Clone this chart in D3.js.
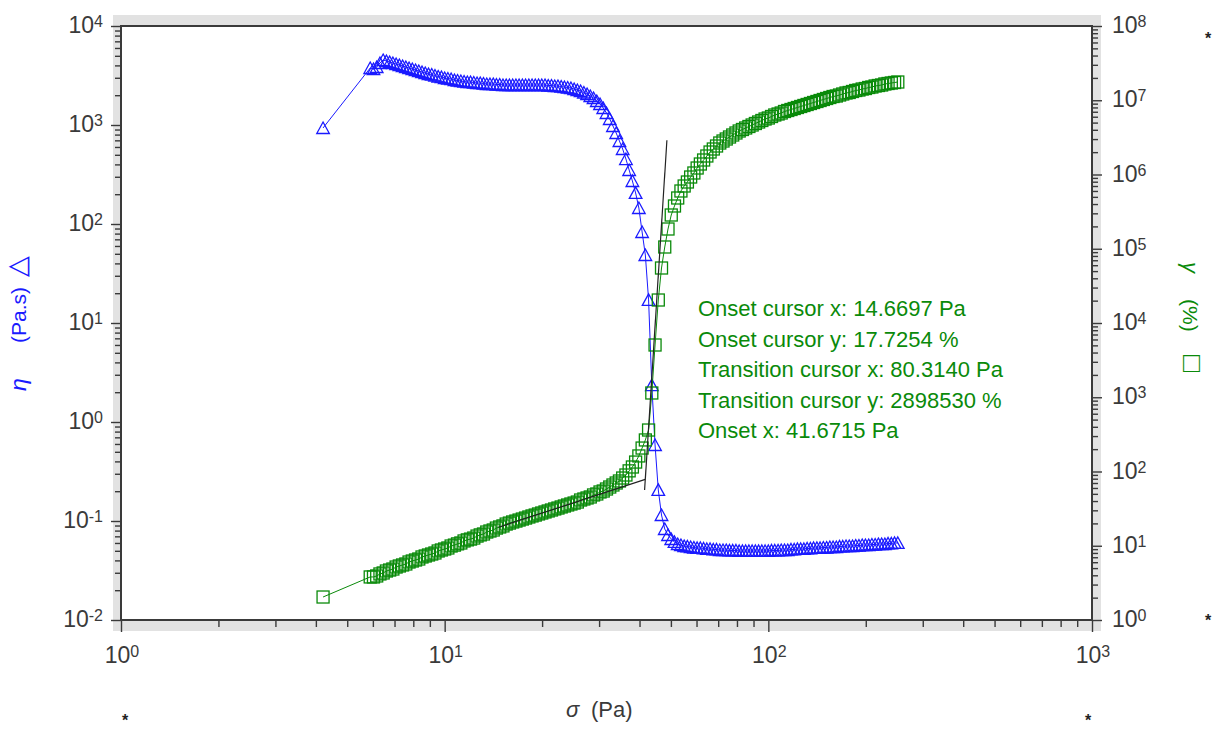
<!DOCTYPE html>
<html><head><meta charset="utf-8">
<script src="https://cdn.jsdelivr.net/npm/d3@7"></script>
<style>
html,body{margin:0;padding:0;background:#fff;}
svg{display:block;font-family:"Liberation Sans",Arial,Helvetica,sans-serif;}
</style></head><body>
<svg id="c" width="1215" height="731"></svg>
<script>
// ---- data ----
const stress = [4.21,
5.888, 6.026, 6.166, 6.310, 6.457, 6.607, 6.761, 6.918, 7.079, 7.244,
7.413, 7.586, 7.762, 7.943, 8.128, 8.318, 8.511, 8.710, 8.913, 9.120,
9.333, 9.550, 9.772, 10.00, 10.23, 10.47, 10.72, 10.96, 11.22, 11.48,
11.75, 12.02, 12.30, 12.59, 12.88, 13.18, 13.49, 13.80, 14.13, 14.45,
14.79, 15.14, 15.49, 15.85, 16.22, 16.60, 16.98, 17.38, 17.78, 18.20,
18.62, 19.05, 19.50, 19.95, 20.42, 20.89, 21.38, 21.88, 22.39, 22.91,
23.44, 23.99, 24.55, 25.12, 25.70, 26.30, 26.92, 27.54, 28.18, 28.84,
29.51, 30.20, 30.90, 31.62, 32.36, 33.11, 33.88, 34.67, 35.48, 36.31,
37.15, 38.02, 38.90, 39.81, 40.74, 41.69, 42.66, 43.65, 44.67, 45.71,
46.77, 47.86, 48.98, 50.12, 51.29, 52.48, 53.70, 54.95, 56.23, 57.54,
58.88, 60.26, 61.66, 63.10, 64.57, 66.07, 67.61, 69.18, 70.79, 72.44,
74.13, 75.86, 77.62, 79.43, 81.28, 83.18, 85.11, 87.10, 89.13, 91.20,
93.33, 95.50, 97.72, 100.0, 102.3, 104.7, 107.2, 109.6, 112.2, 114.8,
117.5, 120.2, 123.0, 125.9, 128.8, 131.8, 134.9, 138.0, 141.3, 144.5,
147.9, 151.4, 154.9, 158.5, 162.2, 166.0, 169.8, 173.8, 177.8, 182.0,
186.2, 190.5, 195.0, 199.5, 204.2, 208.9, 213.8, 218.8, 223.9, 229.1,
234.4, 239.9, 245.5, 251.2];

const viscosity = [933,
3765, 3679, 3854, 4230, 4535, 4432, 4330, 4230, 4133, 4037,
3945, 3854, 3765, 3679, 3594, 3512, 3431, 3352, 3275, 3237,
3162, 3090, 3054, 2984, 2949, 2915, 2848, 2815, 2782, 2750,
2718, 2718, 2687, 2656, 2656, 2625, 2595, 2595, 2595, 2565,
2565, 2535, 2535, 2535, 2535, 2535, 2535, 2535, 2535, 2535,
2535, 2535, 2535, 2535, 2535, 2506, 2506, 2477, 2477, 2448,
2420, 2392, 2364, 2310, 2257, 2205, 2130, 2057, 1963, 1874,
1748, 1630, 1485, 1322, 1150, 977, 830, 689, 572, 453,
351, 272, 206, 145, 83.0, 48.6, 17.1, 2.36, 0.586, 0.206,
0.115, 0.0830, 0.0722, 0.0658, 0.0614, 0.0586, 0.0572, 0.0559, 0.0553, 0.0546,
0.0540, 0.0534, 0.0534, 0.0528, 0.0522, 0.0522, 0.0516, 0.0516, 0.0509, 0.0509,
0.0509, 0.0504, 0.0504, 0.0504, 0.0498, 0.0498, 0.0498, 0.0498, 0.0498, 0.0498,
0.0498, 0.0498, 0.0498, 0.0498, 0.0504, 0.0504, 0.0504, 0.0509, 0.0509, 0.0509,
0.0516, 0.0516, 0.0522, 0.0522, 0.0522, 0.0528, 0.0528, 0.0534, 0.0534, 0.0534,
0.0540, 0.0540, 0.0546, 0.0546, 0.0546, 0.0553, 0.0553, 0.0559, 0.0559, 0.0559,
0.0565, 0.0565, 0.0572, 0.0572, 0.0572, 0.0579, 0.0579, 0.0586, 0.0586, 0.0586,
0.0593, 0.0593, 0.0600, 0.0600];

const strain = [2.04,
3.80, 3.80, 3.92, 4.17, 4.30, 4.57, 4.71, 4.86, 5.17, 5.34,
5.51, 5.68, 6.04, 6.23, 6.43, 6.63, 7.06, 7.28, 7.51, 7.74,
7.99, 8.50, 8.77, 9.04, 9.33, 9.92, 10.2, 10.6, 10.9, 11.6,
12.0, 12.3, 12.7, 13.5, 14.0, 14.4, 15.3, 15.8, 16.3, 17.3,
17.9, 18.5, 19.6, 20.2, 20.9, 21.5, 22.2, 22.9, 23.6, 24.4,
25.2, 25.9, 26.8, 27.6, 28.5, 29.4, 30.3, 31.3, 32.2, 33.3,
34.3, 35.4, 36.5, 37.6, 38.8, 41.3, 42.6, 44.0, 45.4, 48.3,
49.8, 53.0, 54.6, 58.1, 61.8, 65.8, 70.0, 74.5, 81.7, 89.7,
102, 115, 134, 162, 207, 266, 362, 1141, 5055, 20400,
55050, 105600, 184500, 284800, 376600, 482600, 599600, 700000, 792500, 925300,
1048000, 1223000, 1385000, 1568000, 1775000, 2009000, 2205000, 2420000, 2656000, 2826000,
3007000, 3199000, 3404000, 3623000, 3854000, 4038000, 4230000, 4432000, 4642000, 4863000,
5095000, 5337000, 5591000, 5768000, 6042000, 6329000, 6529000, 6735000, 7055000, 7278000,
7507000, 7743000, 7988000, 8240000, 8500000, 8768000, 9042000, 9327000, 9621000, 9922000,
10240000, 10560000, 10890000, 11230000, 11410000, 11770000, 12140000, 12520000, 12720000, 13120000,
13530000, 13740000, 14170000, 14390000, 14850000, 15080000, 15560000, 15800000, 16050000, 16560000,
16810000, 17080000, 17340000, 17610000];

// onset analysis tangent lines
const onsetTangentStress = [14.6697, 41.6715];
const onsetTangentStrain = [17.7254, 78.4];
const transitionTangentStress = [41.47, 48.6];
const transitionTangentStrain = [56.3, 2898530];

// tick labels (exponents of 10)
const xExponents = [0, 1, 2, 3];
const leftExponents = [-2, -1, 0, 1, 2, 3, 4];
const rightExponents = [0, 1, 2, 3, 4, 5, 6, 7, 8];

const annotationLines = [
  "Onset cursor x: 14.6697 Pa",
  "Onset cursor y: 17.7254 %",
  "Transition cursor x: 80.3140 Pa",
  "Transition cursor y: 2898530 %",
  "Onset x: 41.6715 Pa"
];

// ---- drawing ----
const BLUE = "#1a1aff", GREEN = "#0a8a0a", AXIS = "#3a3a3a", LABEL = "#3a3a3a";
const X0 = 121, X1 = 1092, Y0 = 26, Y1 = 620;
const svg = d3.select("#c");
const x = d3.scaleLog().domain([1, 1000]).range([X0, X1]);
const yL = d3.scaleLog().domain([1e-2, 1e4]).range([Y1, Y0]);
const yR = d3.scaleLog().domain([1, 1e8]).range([Y1, Y0]);

// frame shading
svg.append("rect").attr("x", 113).attr("y", 15).attr("width", 988).attr("height", 616).attr("fill", "#e2e2e2");
svg.append("rect").attr("x", X0).attr("y", Y0).attr("width", X1 - X0).attr("height", Y1 - Y0).attr("fill", "#fff");

function minorTicks(lo, hi) {
  const out = [];
  for (let e = lo; e < hi; e++) for (let m = 2; m <= 9; m++) out.push(m * Math.pow(10, e));
  return out;
}
const axisG = svg.append("g");
function drawAxis(axis, transform) {
  const g = axisG.append("g").attr("transform", transform).call(axis);
  g.select(".domain").remove();
  g.selectAll("line").attr("stroke", AXIS).attr("stroke-width", 1.4);
  return g;
}
const p = e => Math.pow(10, e);
drawAxis(d3.axisBottom(x).tickValues(xExponents.map(p)).tickSize(12).tickFormat(""), `translate(0,${Y1})`);
drawAxis(d3.axisBottom(x).tickValues(minorTicks(0, 3)).tickSize(7).tickFormat(""), `translate(0,${Y1})`);
drawAxis(d3.axisLeft(yL).tickValues(leftExponents.map(p)).tickSize(10).tickFormat(""), `translate(${X0},0)`);
drawAxis(d3.axisLeft(yL).tickValues(minorTicks(-2, 4)).tickSize(6).tickFormat(""), `translate(${X0},0)`);
drawAxis(d3.axisRight(yR).tickValues(rightExponents.map(p)).tickSize(10).tickFormat(""), `translate(${X1},0)`);
drawAxis(d3.axisRight(yR).tickValues(minorTicks(0, 8)).tickSize(6).tickFormat(""), `translate(${X1},0)`);

// frame lines
svg.append("rect").attr("x", X0).attr("y", Y0).attr("width", X1 - X0).attr("height", Y1 - Y0)
  .attr("fill", "none").attr("stroke", AXIS).attr("stroke-width", 2);

// tick labels
function powLabel(px, py, anchor, e) {
  const t = svg.append("text").attr("x", px).attr("y", py).attr("text-anchor", anchor)
    .attr("font-size", 23).attr("fill", LABEL);
  t.append("tspan").text("10");
  t.append("tspan").attr("dy", -6).attr("font-size", 16).text(e);
}
xExponents.forEach(e => powLabel(x(p(e)) + 1, 663, "middle", e));
leftExponents.forEach(e => powLabel(103, yL(p(e)) + 7, "end", e));
rightExponents.forEach(e => powLabel(1112, yR(p(e)) + 7, "start", e));

// axis titles
const xt = svg.append("text").attr("y", 717).attr("font-size", 22).attr("fill", LABEL);
xt.append("tspan").attr("x", 566).attr("font-style", "italic").text("σ");
xt.append("tspan").attr("x", 591).text("(Pa)");

const lt = svg.append("g").attr("transform", "translate(26,391) rotate(-90)")
  .append("text").attr("font-size", 20).attr("fill", BLUE);
lt.append("tspan").attr("x", 0).attr("font-style", "italic").attr("font-size", 23).text("η");
lt.append("tspan").attr("x", 48).attr("font-size", 21).text("(Pa.s)");
lt.append("tspan").attr("x", 114).attr("font-size", 27).text("△");

const rt = svg.append("g").attr("transform", "translate(1183,262) rotate(90)")
  .append("text").attr("font-size", 21).attr("fill", GREEN);
rt.append("tspan").attr("x", 0).attr("font-style", "italic").attr("font-size", 22).text("γ");
rt.append("tspan").attr("x", 37).text("(%)");
rt.append("tspan").attr("x", 93).attr("font-size", 28).text("□");

// series
const plot = svg.append("g");
const idx = d3.range(stress.length);
plot.append("path").datum(idx).attr("fill", "none").attr("stroke", BLUE).attr("stroke-width", 1)
  .attr("d", d3.line().x(i => x(stress[i])).y(i => yL(viscosity[i])));
plot.selectAll(".tri").data(idx).enter().append("path")
  .attr("transform", i => `translate(${x(stress[i])},${yL(viscosity[i])})`)
  .attr("d", "M0,-6L6.3,5.5L-6.3,5.5Z").attr("fill", "none").attr("stroke", BLUE).attr("stroke-width", 1.3);

plot.append("path").datum(idx).attr("fill", "none").attr("stroke", GREEN).attr("stroke-width", 1)
  .attr("d", d3.line().x(i => x(stress[i])).y(i => yR(strain[i])));
plot.selectAll(".sq").data(idx).enter().append("rect")
  .attr("x", i => x(stress[i]) - 6).attr("y", i => yR(strain[i]) - 6)
  .attr("width", 12).attr("height", 12).attr("fill", "none").attr("stroke", GREEN).attr("stroke-width", 1.3);

// tangent lines
const tl = d3.line().x(d => x(d[0])).y(d => yR(d[1]));
plot.append("path").attr("d", tl(d3.zip(onsetTangentStress, onsetTangentStrain)))
  .attr("stroke", "#222").attr("stroke-width", 1.2).attr("fill", "none");
plot.append("path").attr("d", tl(d3.zip(transitionTangentStress, transitionTangentStrain)))
  .attr("stroke", "#222").attr("stroke-width", 1.2).attr("fill", "none");

// annotation
svg.append("g").selectAll("text").data(annotationLines).enter().append("text")
  .attr("x", 698).attr("y", (d, i) => 316 + i * 30.5)
  .attr("font-size", 22).attr("fill", GREEN).text(d => d);

// corner asterisks
[[1208, 44], [1208, 626], [125, 726], [1088, 726]].forEach(([ax, ay]) => {
  svg.append("text").attr("x", ax).attr("y", ay).attr("text-anchor", "middle")
    .attr("font-size", 16).attr("font-weight", "bold").attr("fill", "#222").text("*");
});
</script>
</body></html>
